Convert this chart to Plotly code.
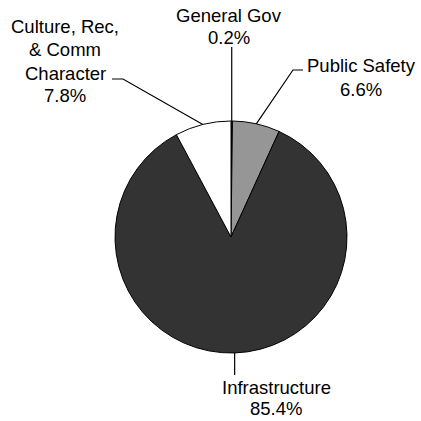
import math
import plotly.graph_objects as go

# Spending shares by program area (percent of total)
categories = ["General Gov", "Public Safety", "Infrastructure", "Culture, Rec,<br>& Comm<br>Character"]
shares = [0.2, 6.6, 85.4, 7.8]
slice_colors = ["#000000", "#969696", "#333333", "#ffffff"]

W = H = 421
CX, CY, R = 231, 237, 116          # pie centre and radius in pixels
FONT = dict(family="Liberation Sans, Arial, sans-serif", size=18.5, color="#000000")
LINE_GAP = 23                       # spacing between label lines (px)

# label block placement (centre x, centre y of first line) and leader-line elbows
label_xy = [(229, 15), (361, 66), (276, 387), (65, 27)]
line_gap = [LINE_GAP, LINE_GAP, 21.5, LINE_GAP]
elbows = [
    lambda rx, ry: [(rx, 47)],
    lambda rx, ry: [(293, 70), (303, 70)],
    lambda rx, ry: [(rx, 375)],
    lambda rx, ry: [(123, 79), (112, 79)],
]


def px(x, y):
    """pixel -> paper coordinates"""
    return x / W, 1 - y / H


fig = go.Figure(go.Pie(
    labels=[c.replace("<br>", " ") for c in categories],
    values=shares,
    sort=False,
    direction="clockwise",
    rotation=0,
    marker=dict(colors=slice_colors, line=dict(color="#000000", width=1)),
    textinfo="none",
    hoverinfo="skip",
    showlegend=False,
    domain=dict(x=[(CX - R) / W, (CX + R) / W], y=[1 - (CY + R) / H, 1 - (CY - R) / H]),
))

total = sum(shares)
cum = 0.0
shapes, annotations = [], []
for i, (cat, v) in enumerate(zip(categories, shares)):
    mid = (cum + v / 2) / total
    cum += v
    ang = 2 * math.pi * mid
    rx, ry = CX + R * math.sin(ang), CY - R * math.cos(ang)
    pts = [(rx, ry)] + elbows[i](rx, ry)
    path = ""
    for j, (x, y) in enumerate(pts):
        X, Y = px(x, y)
        path += ("M" if j == 0 else " L") + f" {X:.5f} {Y:.5f}"
    shapes.append(dict(type="path", xref="paper", yref="paper", path=path,
                       line=dict(color="#000000", width=1.2)))

    lines = cat.split("<br>") + [f"{v:.1f}%"]
    lx, ly = label_xy[i]
    for k, t in enumerate(lines):
        X, Y = px(lx, ly + k * line_gap[i])
        annotations.append(dict(x=X, y=Y, xref="paper", yref="paper", text=t,
                                showarrow=False, xanchor="center", yanchor="middle",
                                font=FONT))

fig.update_layout(
    width=W, height=H,
    margin=dict(l=0, r=0, t=0, b=0),
    paper_bgcolor="#ffffff", plot_bgcolor="#ffffff",
    shapes=shapes, annotations=annotations,
)

fig.write_html("out.html")
